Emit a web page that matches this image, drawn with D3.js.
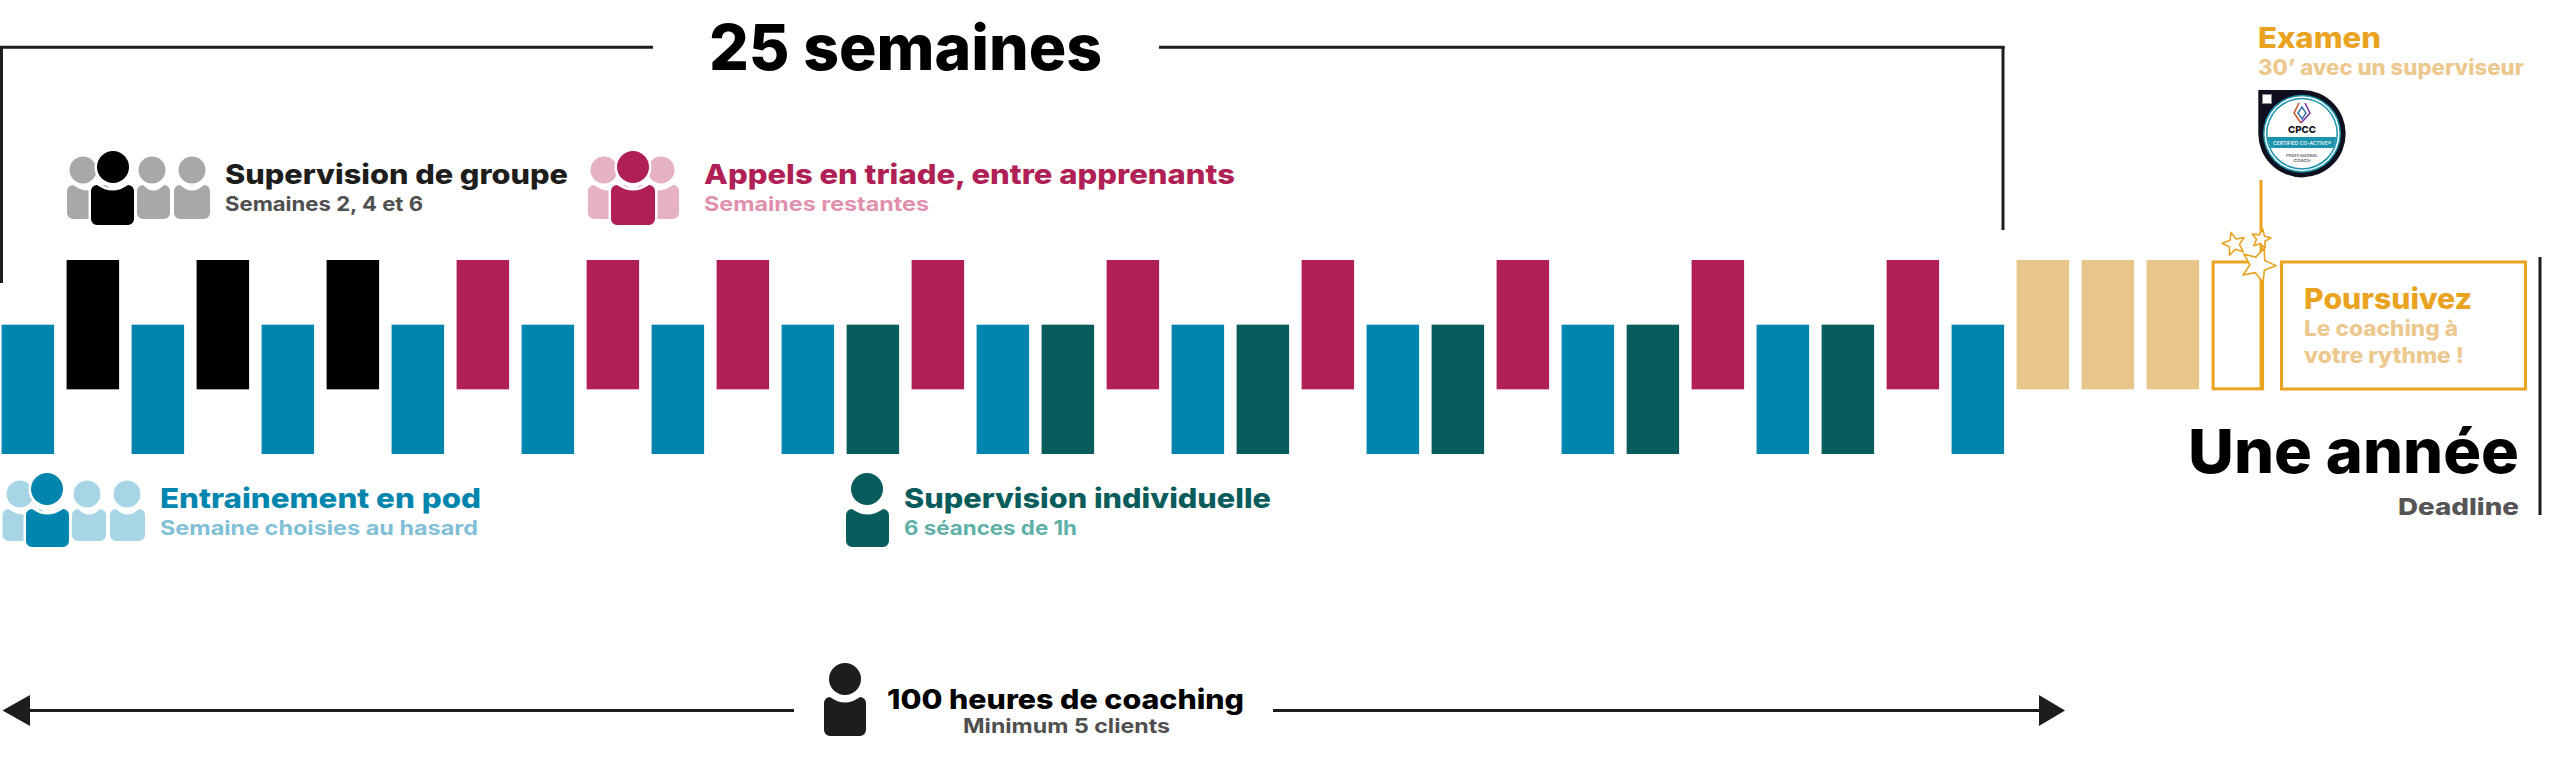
<!DOCTYPE html>
<html lang="fr">
<head>
<meta charset="utf-8">
<script src="https://cdn.jsdelivr.net/npm/d3@7"></script>
<style>
html,body{margin:0;padding:0;background:#fff;overflow:hidden}
svg{display:block}
text{font-family:Inter,"Noto Sans",sans-serif;}
</style>
</head>
<body>
<svg id="chart" width="2560" height="764"></svg>
<script>
// ---- data ----
const weekTypes = ["pod","groupe","pod","groupe","pod","groupe","pod","triade","pod","triade","pod","triade","pod","indiv","triade","pod","indiv","triade","pod","indiv","triade","pod","indiv","triade","pod","indiv","triade","pod","indiv","triade","pod","attente","attente","attente","examen"];
const weekStarts = [0,1,0,1,0,1,0,1,0,1,0,1,0,0,1,0,0,1,0,0,1,0,0,1,0,0,1,0,0,1,0,1,1,1,1];
const weekSpan = 2;
const typeNames = ["pod","groupe","triade","indiv","attente"];
const typeColors = ["#0086ae","#000000","#b01f55","#095c5c","#e8c58a"];
const titleLabels = ["25 semaines","Une année","Deadline"];
const legendTitles = ["Supervision de groupe","Appels en triade, entre apprenants","Entrainement en pod","Supervision individuelle"];
const legendSubs = ["Semaines 2, 4 et 6","Semaines restantes","Semaine choisies au hasard","6 séances de 1h"];
const coachingLabels = ["100 heures de coaching","Minimum 5 clients"];
const examLabels = ["Examen","30’ avec un superviseur"];
const nextLabels = ["Poursuivez","Le coaching à","votre rythme !"];
const badgeLabels = ["CPCC","CERTIFIED CO-ACTIVE®","PROFESSIONAL","COACH"];

// ---- scales ----
const svg = d3.select("#chart");
const x = d3.scaleBand().domain(d3.range(weekTypes.length)).range([1.6, 1.6 + 65 * 35 - 12.5]).paddingInner(12.5 / 65).paddingOuter(0);
const y = d3.scaleLinear().domain([0, 3]).range([454, 260]);
const color = d3.scaleOrdinal().domain(typeNames).range(typeColors);

const INK = "#1d1d1b", GOLD = "#e9a320", PALE = "#ecc88e", GREY = "#4f4f4f";

function label(t, px, py, size, weight, fill, width, anchor) {
  const n = svg.append("text").attr("x", px).attr("y", py).attr("font-size", size)
    .attr("font-weight", weight).attr("fill", fill).text(t);
  if (anchor) n.attr("text-anchor", anchor);
  if (width) n.attr("textLength", width).attr("lengthAdjust", "spacingAndGlyphs");
  return n;
}
function rule(x1, y1, x2, y2, stroke, w) {
  svg.append("line").attr("x1", x1).attr("y1", y1).attr("x2", x2).attr("y2", y2)
    .attr("stroke", stroke).attr("stroke-width", w);
}
function person(hx, hy, r, L, R, T, B, fill, halo) {
  const c = 6, cx = (L + R) / 2;
  const s = halo ? "#fff" : "none", sw = halo ? 5 : 0;
  svg.append("circle").attr("cx", hx).attr("cy", hy).attr("r", r).attr("fill", fill).attr("stroke", s).attr("stroke-width", sw).attr("paint-order", "stroke");
  svg.append("path").attr("fill", fill).attr("stroke", s).attr("stroke-width", sw).attr("paint-order", "stroke").attr("d",
    `M${L + c},${T} Q${cx},${T + 11} ${R - c},${T} A${c},${c} 0 0 1 ${R},${T + c} V${B - c} A${c},${c} 0 0 1 ${R - c},${B} H${L + c} A${c},${c} 0 0 1 ${L},${B - c} V${T + c} A${c},${c} 0 0 1 ${L + c},${T} Z`);
}
function star(cx, cy, r, rot) {
  const pts = d3.range(10).map(i => {
    const a = rot + i * Math.PI / 5, rad = i % 2 ? r * 0.45 : r;
    return [cx + rad * Math.sin(a), cy - rad * Math.cos(a)];
  });
  svg.append("polygon").attr("points", pts.join(" ")).attr("fill", "#fff")
    .attr("stroke", GOLD).attr("stroke-width", 1.6).attr("stroke-linejoin", "round");
}

// ---- bracket ----
rule(0, 47.3, 653, 47.3, INK, 3);
rule(1159, 47.3, 2004.5, 47.3, INK, 3);
rule(1.5, 46, 1.5, 283, INK, 3);
rule(2003, 46, 2003, 230, INK, 3);
label(titleLabels[0], 709, 70, 63, 800, "#000", 393);

// ---- bars ----
const solid = weekTypes.map((t, i) => ({ t, i, s: weekStarts[i] }));
svg.append("g").selectAll("rect").data(solid.filter(d => d.t !== "examen")).join("rect")
  .attr("x", d => x(d.i)).attr("width", x.bandwidth())
  .attr("y", d => y(d.s + weekSpan)).attr("height", d => y(d.s) - y(d.s + weekSpan))
  .attr("fill", d => color(d.t));
svg.append("g").selectAll("rect").data(solid.filter(d => d.t === "examen")).join("rect")
  .attr("x", d => x(d.i) + 1.5).attr("width", x.bandwidth() - 3)
  .attr("y", d => y(d.s + weekSpan) + 2).attr("height", d => y(d.s) - y(d.s + weekSpan) - 2.5)
  .attr("fill", "none").attr("stroke", GOLD).attr("stroke-width", 3);

// ---- icons + legends ----
const lightGrey = "#a8a8a8", lightRed = "#e6b1c5", lightBlue = "#a8d5e5";
person(83, 170, 13.5, 67, 110, 185, 219, lightGrey);
person(152, 170, 13.5, 137, 170, 185, 219, lightGrey);
person(192, 170, 13.5, 174, 210, 185, 219, lightGrey);
person(113, 167, 16, 91, 134, 185, 225, "#000", true);
label(legendTitles[0], 225, 184, 27.5, 800, INK, 343);
label(legendSubs[0], 225, 211, 20, 700, GREY, 198);

person(604, 170, 13.5, 588, 630, 185, 219, lightRed);
person(661, 170, 13.5, 636, 679, 185, 219, lightRed);
person(633, 167, 16, 611, 655, 185, 225, "#b01f55", true);
label(legendTitles[1], 704, 184, 27.5, 800, "#b01f55", 531);
label(legendSubs[1], 704, 211, 20, 700, "#e08fad", 225);

person(20, 494, 13.5, 2.5, 45, 509, 541, lightBlue);
person(87, 494, 13.5, 72, 106, 509, 541, lightBlue);
person(127, 494, 13.5, 110, 145, 509, 541, lightBlue);
person(47, 489, 16, 26, 69, 509, 547, "#0086ae", true);
label(legendTitles[2], 160, 508, 27.5, 800, "#0086ae", 321);
label(legendSubs[2], 160, 535, 20, 700, "#7fc0d7", 318);

person(867, 489, 16, 846, 889, 509, 547, "#095c5c");
label(legendTitles[3], 904, 508, 27.5, 800, "#095c5c", 367);
label(legendSubs[3], 904, 535, 20, 700, "#5fb0a8", 173);

// ---- bottom arrow ----
rule(29, 710.5, 794, 710.5, INK, 3);
rule(1273, 710.5, 2040, 710.5, INK, 3);
svg.append("polygon").attr("points", "2.5,710.5 30,695 30,726").attr("fill", INK);
svg.append("polygon").attr("points", "2065,710.5 2039,695 2039,726").attr("fill", INK);
person(845, 679, 16, 824, 866, 697, 736, INK);
label(coachingLabels[0], 887, 709, 27.5, 800, "#000", 357);
label(coachingLabels[1], 963, 733, 20, 700, GREY, 207);

// ---- exam ----
label(examLabels[0], 2258, 48, 29, 800, GOLD, 123);
label(examLabels[1], 2258, 75, 21, 800, PALE, 266);

const bx = 2302, by = 133.7, br = 43.7;
svg.append("path").attr("fill", "#0e1020")
  .attr("d", `M${bx - br},90 H${bx} A${br},${br} 0 1 1 ${bx - br},${by} Z`);
svg.append("circle").attr("cx", bx).attr("cy", by).attr("r", 39).attr("fill", "#1d93ad");
svg.append("circle").attr("cx", bx).attr("cy", by).attr("r", 37.5).attr("fill", "#fff");
svg.append("circle").attr("cx", bx).attr("cy", by).attr("r", 36).attr("fill", "#1d93ad");
svg.append("clipPath").attr("id", "badge").append("circle").attr("cx", bx).attr("cy", by).attr("r", 34.5);
const inner = svg.append("g").attr("clip-path", "url(#badge)");
inner.append("rect").attr("x", bx - 40).attr("y", by - 40).attr("width", 80).attr("height", 80).attr("fill", "#fff");
inner.append("rect").attr("x", bx - 40).attr("y", 137).attr("width", 80).attr("height", 11).attr("fill", "#1d93ad");
svg.append("rect").attr("x", 2262.5).attr("y", 94.5).attr("width", 9).attr("height", 9).attr("fill", "#fff").attr("stroke", "#888").attr("stroke-width", 1);
svg.append("path").attr("fill", "none").attr("stroke", "#c8562e").attr("stroke-width", 1.6)
  .attr("d", `M${bx - 3},103 L${bx - 8},113 L${bx - 1},123`);
svg.append("path").attr("fill", "none").attr("stroke", "#7b3b98").attr("stroke-width", 1.6)
  .attr("d", `M${bx - 1},123 L${bx + 8},113 L${bx + 3},103`);
svg.append("path").attr("fill", "none").attr("stroke", "#2f6f9f").attr("stroke-width", 1.4)
  .attr("d", `M${bx},107 L${bx - 4},113 L${bx},119 L${bx + 4},113 Z`);
label(badgeLabels[0], bx, 133, 9.5, 800, "#0e1020", 28, "middle");
label(badgeLabels[1], bx, 144.5, 4.5, 500, "#fff", 58, "middle");
label(badgeLabels[2], bx, 156.5, 3.6, 500, "#444", 32, "middle");
label(badgeLabels[3], bx, 162, 3.6, 500, "#444", 17, "middle");

rule(2261, 180, 2261, 390, GOLD, 3);
star(2234, 244, 12, -0.25);
star(2261, 239, 10, 0.2);
star(2258, 265, 18, 0.35);

// ---- continue box ----
svg.append("rect").attr("x", 2281.5).attr("y", 262).attr("width", 244).attr("height", 127)
  .attr("fill", "none").attr("stroke", GOLD).attr("stroke-width", 3);
label(nextLabels[0], 2304, 309, 29, 800, GOLD, 168);
label(nextLabels[1], 2304, 336, 21, 800, PALE, 154);
label(nextLabels[2], 2304, 363, 21, 800, PALE, 160);

// ---- deadline ----
label(titleLabels[1], 2188, 473, 61, 800, "#000", 331);
label(titleLabels[2], 2398, 515, 23, 800, "#555", 121);
rule(2540, 257, 2540, 515, INK, 3);
</script>
</body>
</html>
